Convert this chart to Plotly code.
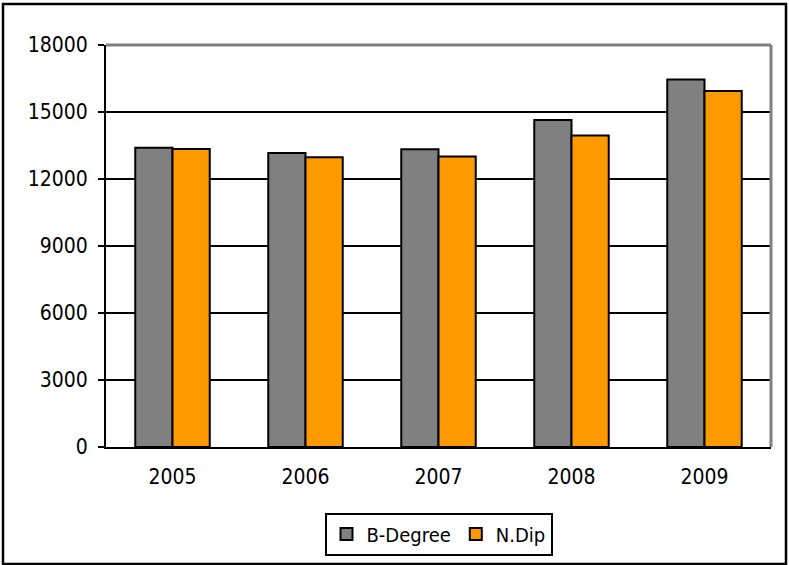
import plotly.graph_objects as go

years = ["2005", "2006", "2007", "2008", "2009"]
b_degree = [13400, 13160, 13330, 14640, 16450]
n_dip = [13340, 12970, 13010, 13950, 15940]
y_ticks = [0, 3000, 6000, 9000, 12000, 15000, 18000]
y_tick_text = [str(v) for v in y_ticks]

W, H = 789, 565
L, R, T, B = 106, 18, 45, 118
pw, ph = W - L - R, H - T - B
FONT = "DejaVu Sans Condensed, DejaVu Sans, sans-serif"

def px(x):
    return (x - L) / pw

def py(y):
    return (H - B - y) / ph

fig = go.Figure()
fig.add_trace(go.Bar(name="B-Degree", x=years, y=b_degree,
                     marker=dict(color="#808080", line=dict(color="black", width=2))))
fig.add_trace(go.Bar(name="N.Dip", x=years, y=n_dip,
                     marker=dict(color="#FF9900", line=dict(color="black", width=2))))

fig.update_layout(
    width=W, height=H,
    margin=dict(l=L, r=R, t=T, b=B, autoexpand=False),
    paper_bgcolor="white", plot_bgcolor="white",
    barmode="group", bargap=0.44, bargroupgap=0,
    font=dict(family=FONT, size=21, color="black"),
    showlegend=True,
    legend=dict(orientation="h", x=0.5, xanchor="center", y=-0.163, yanchor="top",
                bordercolor="black", borderwidth=2, font=dict(size=20),
                itemwidth=30, tracegroupgap=0),
    xaxis=dict(showline=True, linecolor="black", linewidth=2, ticks="",
               showgrid=False, tickfont=dict(size=21), ticklabelstandoff=10),
    yaxis=dict(range=[0, 18000], tickvals=y_ticks, ticktext=y_tick_text,
               ticks="outside", ticklen=6, tickwidth=2, tickcolor="black",
               showline=True, linecolor="black", linewidth=2,
               showgrid=True, gridcolor="black", gridwidth=2,
               zeroline=False, tickfont=dict(size=21), ticklabelstandoff=6),
    shapes=[
        # plot area frame (top and right edges)
        dict(type="line", xref="paper", yref="paper", x0=0, x1=1, y0=1, y1=1,
             line=dict(color="#808080", width=3)),
        dict(type="line", xref="paper", yref="paper", x0=1, x1=1, y0=0, y1=1,
             line=dict(color="#808080", width=3)),
        # outer chart border
        dict(type="rect", xref="paper", yref="paper",
             x0=px(3), x1=px(786), y0=py(4), y1=py(564),
             line=dict(color="black", width=2.5), layer="above"),
    ],
)

fig.write_html("out.html")
